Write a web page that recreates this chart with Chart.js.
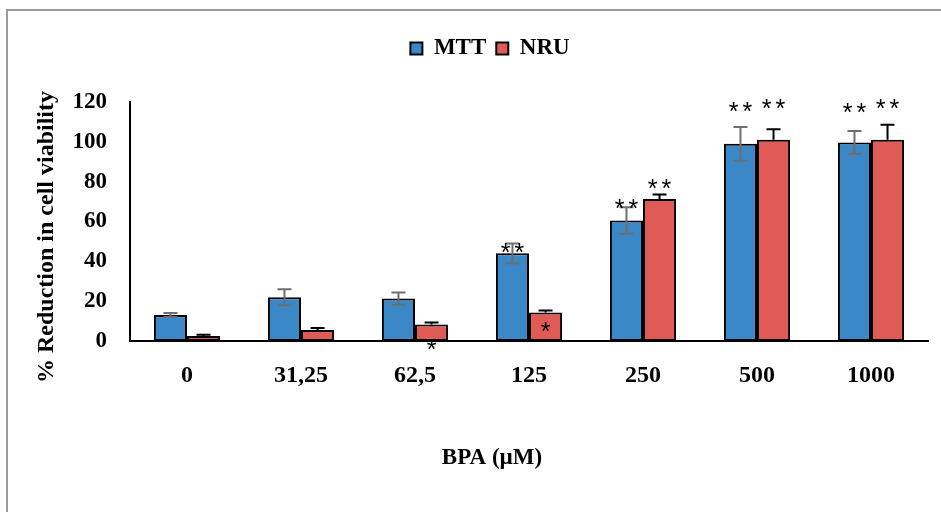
<!DOCTYPE html>
<html>
<head>
<meta charset="utf-8">
<title>BPA cell viability</title>
<script src="https://cdn.jsdelivr.net/npm/chart.js@4"></script>
<style>
  html, body { margin: 0; padding: 0; background: #fff; }
  #wrap { position: relative; width: 941px; height: 512px; }
  #frame { position: absolute; left: 6px; top: 9px; right: 0; bottom: 0;
           border-top: 2px solid #9a9a9a; border-left: 2px solid #9a9a9a; }
  canvas { position: absolute; left: 0; top: 0; }
</style>
</head>
<body>
<div id="wrap">
  <div id="frame"></div>
  <canvas id="chart" width="941" height="512"></canvas>
</div>
<script>
// data
const doses = ['0', '31,25', '62,5', '125', '250', '500', '1000'];
const mttValues = [13, 22, 21.3, 44, 60.5, 99, 99.7];
const mttErrors = [1, 4, 3, 5, 6.6, 8.5, 5.8];
const nruValues = [2.5, 5.5, 8.3, 14.3, 71.3, 101, 101];
const nruErrors = [0.6, 1, 1, 1, 2.3, 5.3, 7.6];
// significance marks and the value level they sit at
const mttSig = ['', '', '', '**', '**', '**', '**'];
const mttSigAt = [null, null, null, 46.5, 68.5, 117.5, 117];
const nruSig = ['', '', '*', '*', '**', '**', '**'];
const nruSigAt = [null, null, -2, 7, 79, 119, 119];
const yTicks = [0, 20, 40, 60, 80, 100, 120];

const serif = 'Liberation Serif';

// extra room under the legend
const legendGap = {
  id: 'legendGap',
  beforeInit(chart) {
    const fit = chart.legend.fit;
    chart.legend.fit = function () {
      fit.call(this);
      this.height += 32;
    };
  }
};

const errorBars = {
  id: 'errorBars',
  afterDatasetsDraw(chart) {
    const ctx = chart.ctx;
    const y = chart.scales.y;
    const sets = [
      { idx: 0, vals: mttValues, errs: mttErrors, color: '#6e6e6e', both: true },
      { idx: 1, vals: nruValues, errs: nruErrors, color: '#000000', both: false }
    ];
    ctx.save();
    ctx.lineWidth = 2;
    sets.forEach(s => {
      const meta = chart.getDatasetMeta(s.idx);
      meta.data.forEach((bar, i) => {
        const top = y.getPixelForValue(s.vals[i] + s.errs[i]);
        const bot = s.both ? y.getPixelForValue(s.vals[i] - s.errs[i]) : y.getPixelForValue(s.vals[i]);
        ctx.strokeStyle = s.color;
        ctx.beginPath();
        ctx.moveTo(bar.x, top);
        ctx.lineTo(bar.x, bot);
        ctx.moveTo(bar.x - 7, top);
        ctx.lineTo(bar.x + 7, top);
        if (s.both) {
          ctx.moveTo(bar.x - 7, bot);
          ctx.lineTo(bar.x + 7, bot);
        }
        ctx.stroke();
      });
    });
    ctx.restore();
  }
};

const marks = {
  id: 'marks',
  afterDraw(chart) {
    const ctx = chart.ctx;
    const y = chart.scales.y;
    ctx.save();
    ctx.fillStyle = '#000';
    ctx.textAlign = 'center';
    ctx.textBaseline = 'middle';
    ctx.font = '25px "Liberation Sans"';
    ctx.letterSpacing = '4px';
    [[0, mttSig, mttSigAt], [1, nruSig, nruSigAt]].forEach(([idx, sig, at]) => {
      chart.getDatasetMeta(idx).data.forEach((bar, i) => {
        if (!sig[i]) return;
        ctx.fillText(sig[i], bar.x + 2, y.getPixelForValue(at[i]) + 6);
      });
    });
    ctx.letterSpacing = '0px';

    // axis titles
    ctx.font = 'bold 24px "' + serif + '"';
    ctx.save();
    ctx.translate(47, 237);
    ctx.rotate(-Math.PI / 2);
    ctx.fillText('% Reduction in cell viability', 0, 0);
    ctx.restore();
    ctx.font = 'bold 23px "' + serif + '"';
    ctx.fillText('BPA (µM)', 492, 458);
    ctx.restore();
  }
};

new Chart(document.getElementById('chart'), {
  type: 'bar',
  data: {
    labels: doses,
    datasets: [{
      label: 'MTT',
      data: mttValues,
      backgroundColor: '#3b88c8',
      borderColor: '#000',
      borderWidth: 2,
      borderSkipped: false
    }, {
      label: 'NRU',
      data: nruValues,
      backgroundColor: '#e05a56',
      borderColor: '#000',
      borderWidth: 2,
      borderSkipped: false
    }]
  },
  options: {
    responsive: false,
    animation: false,
    devicePixelRatio: 1,
    layout: { padding: { left: 52, right: 13, top: 27, bottom: 0 } },
    datasets: { bar: { categoryPercentage: 0.58, barPercentage: 1 } },
    plugins: {
      legend: {
        position: 'top',
        labels: {
          boxWidth: 12,
          boxHeight: 12,
          padding: 10,
          color: '#000',
          font: { family: serif, size: 23, weight: 'bold' }
        }
      },
      tooltip: { enabled: false }
    },
    scales: {
      x: {
        grid: { display: false, drawTicks: false },
        border: { display: true, color: '#000', width: 2 },
        ticks: { color: '#000', padding: 20, font: { family: serif, size: 24, weight: 'bold' } },
        afterFit(scale) { scale.height = 171; }
      },
      y: {
        min: 0,
        max: 120,
        grid: { display: false, drawTicks: false },
        border: { display: true, color: '#000', width: 2 },
        afterBuildTicks(scale) { scale.ticks = yTicks.map(v => ({ value: v })); },
        ticks: { color: '#000', padding: 23, font: { family: serif, size: 23, weight: 'bold' } },
        afterFit(scale) { scale.width = 78; }
      }
    }
  },
  plugins: [legendGap, errorBars, marks]
});
</script>
</body>
</html>
